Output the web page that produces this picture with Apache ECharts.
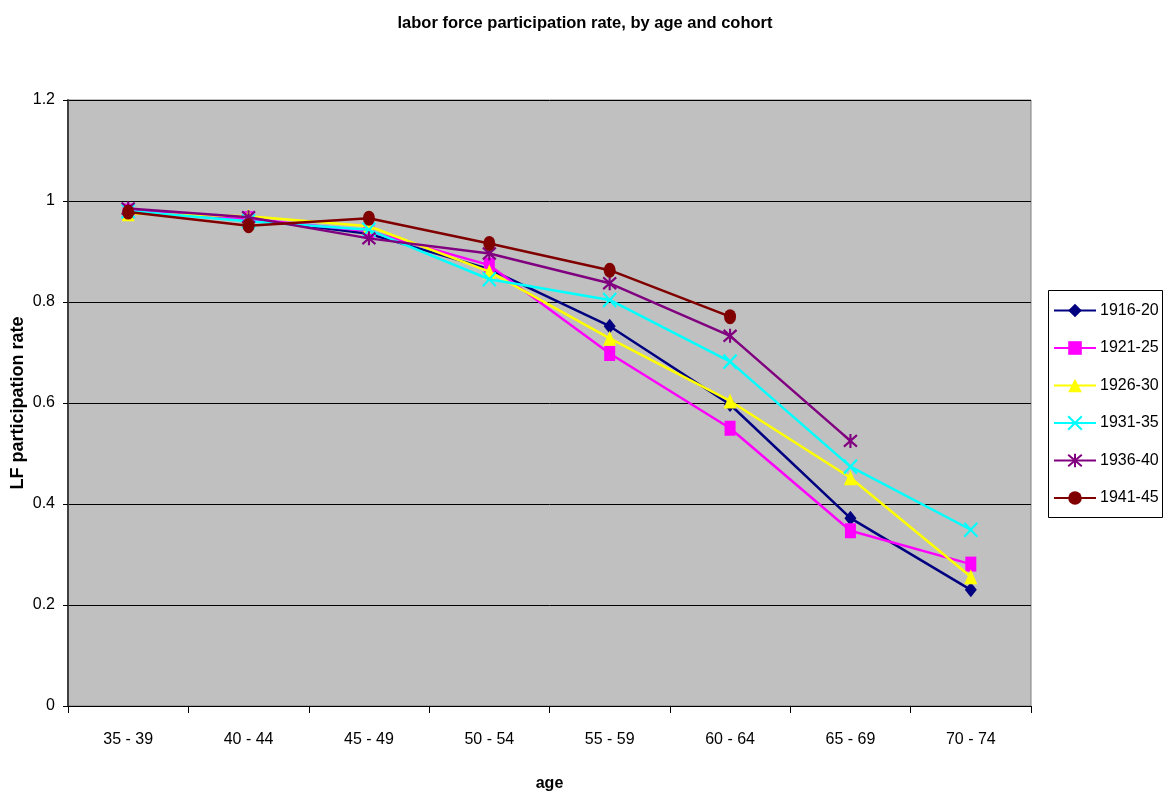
<!DOCTYPE html>
<html><head><meta charset="utf-8">
<script src="https://cdn.jsdelivr.net/npm/echarts@6/dist/echarts.min.js"></script>
<style>html,body{margin:0;padding:0;background:#fff}#c{width:1173px;height:800px}</style>
</head><body><div id="c"></div>
<script>
var categories = ['35 - 39','40 - 44','45 - 49','50 - 54','55 - 59','60 - 64','65 - 69','70 - 74'];
var cohorts = ['1916-20','1921-25','1926-30','1931-35','1936-40','1941-45'];
var s1916 = [0.980, 0.965, 0.935, 0.865, 0.752, 0.597, 0.372, 0.230];
var s1921 = [0.980, 0.965, 0.940, 0.873, 0.698, 0.550, 0.347, 0.281];
var s1926 = [0.975, 0.970, 0.950, 0.860, 0.728, 0.604, 0.452, 0.256];
var s1931 = [0.980, 0.960, 0.943, 0.845, 0.804, 0.682, 0.474, 0.349];
var s1936 = [0.985, 0.968, 0.926, 0.896, 0.837, 0.733, 0.525];
var s1941 = [0.978, 0.951, 0.966, 0.916, 0.863, 0.771];
var yTicks = [0, 0.2, 0.4, 0.6, 0.8, 1, 1.2];

var FONT = "'Liberation Sans', Arial, sans-serif";
var colors = ['#000080','#FF00FF','#FFFF00','#00FFFF','#800080','#800000'];
var symbols = ['diamond','rect','triangle','path://M0,0L10,10M10,0L0,10','path://M0,0L10,10M10,0L0,10M5,-1L5,11','circle'];
var sizes = [[12,15],[11,15],[13,15],[13,14],[13,14],[12,15]];
var data = [s1916,s1921,s1926,s1931,s1936,s1941];

var series = cohorts.map(function(name,i){
  var stroke = i===3 || i===4;
  return {
    name: name, type: 'line', data: data[i],
    symbol: symbols[i], symbolSize: sizes[i], showAllSymbol: true,
    lineStyle: {color: colors[i], width: 2.5},
    itemStyle: stroke ? {color: 'rgba(0,0,0,0)', borderColor: colors[i], borderWidth: 2.2}
                      : {color: colors[i], borderWidth: 0},
    emphasis: {disabled: true},
    z: 2 + i
  };
});

var chart = echarts.init(document.getElementById('c'), null, {renderer:'canvas'});
chart.setOption({
  animation: false,
  backgroundColor: '#ffffff',
  title: {text: 'labor force participation rate, by age and cohort', left: 580, top: 10, textAlign: 'center',
    textStyle: {fontFamily: FONT, fontSize: 16.5, fontWeight: 'bold', color: '#000'}},
  grid: {left: 68, top: 100, width: 963, height: 606, outerBoundsMode: 'none', containLabel: false,
    show: true, backgroundColor: '#C0C0C0', borderWidth: 1, borderColor: '#808080'},
  graphic: [{type: 'rect', z: 0,
    shape: {x: 1048.5, y: 290.5, width: 114, height: 227}, style: {fill: '#fff', stroke: '#000', lineWidth: 1}}],
  legend: {
    orient: 'vertical', left: 1048, top: 290, z: 10,
    padding: [12, 4, 10, 5], itemGap: 20.5, itemWidth: 42, itemHeight: 17,
    textStyle: {fontFamily: FONT, fontSize: 16, lineHeight: 17, color: '#000', padding: [0,0,0,-1]},
    data: cohorts
  },
  xAxis: {
    type: 'category', data: categories, boundaryGap: true,
    name: 'age', nameLocation: 'middle', nameGap: 70, nameMoveOverlap: false,
    nameTextStyle: {fontFamily: FONT, fontSize: 16, fontWeight: 'bold', color: '#000'},
    axisLine: {lineStyle: {color: '#000', width: 1}},
    axisTick: {show: true, length: 7, lineStyle: {color: '#000'}},
    axisLabel: {fontFamily: FONT, fontSize: 16, color: '#000', margin: 26}
  },
  yAxis: {
    type: 'value', min: 0, max: 1.2, interval: 0.2,
    name: 'LF participation rate', nameLocation: 'middle', nameGap: 41, nameRotate: 90, nameMoveOverlap: false,
    nameTextStyle: {fontFamily: FONT, fontSize: 18, fontWeight: 'bold', color: '#000'},
    axisLine: {show: true, lineStyle: {color: '#404040', width: 2}},
    axisTick: {show: true, length: 5, lineStyle: {color: '#000'}},
    axisLabel: {fontFamily: FONT, fontSize: 16, color: '#000', margin: 13,
      formatter: function(v){ var t = yTicks.find(function(x){return Math.abs(x-v)<1e-9;}); return String(t===undefined?v:t); }},
    splitLine: {show: true, lineStyle: {color: '#000', width: 1}}
  },
  series: series
});
</script></body></html>
